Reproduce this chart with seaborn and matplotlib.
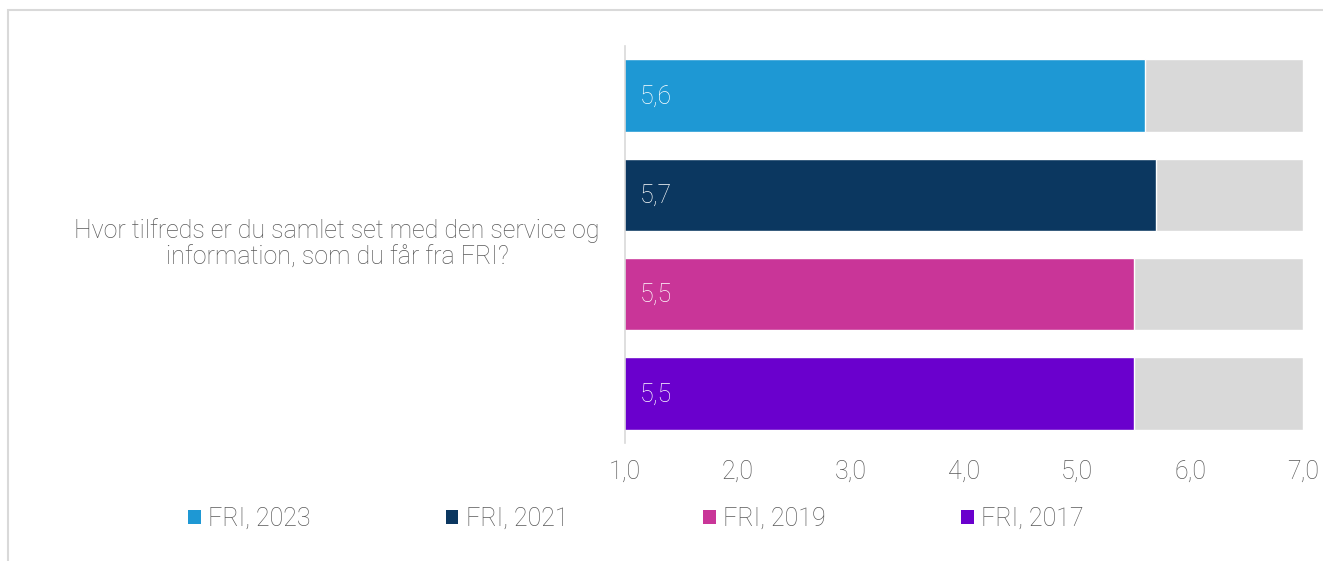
import matplotlib
matplotlib.use('Agg')
import matplotlib.pyplot as plt
from matplotlib.patches import Rectangle, Patch
import pandas as pd
import seaborn as sns

series = ['FRI, 2023', 'FRI, 2021', 'FRI, 2019', 'FRI, 2017']
values = [5.6, 5.7, 5.5, 5.5]
value_labels = ['5,6', '5,7', '5,5', '5,5']
colors = ['#1E98D4', '#0B3760', '#C93598', '#6A00CD']
scale_max = 7.0
xticks = [1, 2, 3, 4, 5, 6, 7]
xtick_labels = ['1,0', '2,0', '3,0', '4,0', '5,0', '6,0', '7,0']
question = 'Hvor tilfreds er du samlet set med den service og\ninformation, som du får fra FRI?'

sns.set_style('white')
plt.rcParams['font.family'] = ['Roboto', 'DejaVu Sans']
plt.rcParams['font.weight'] = 'light'
txt_col = '#595959'
fs = 18

df = pd.DataFrame({'serie': series, 'value': values, 'max': [scale_max] * len(series)})

fig = plt.figure(figsize=(13.23, 5.61), dpi=100)
ax = fig.add_axes([625 / 1323, 1 - 443 / 561, 678 / 1323, 397 / 561])

# grey remainder up to 7, then the coloured bar on top
sns.barplot(data=df, y='serie', x='max', order=series, color='#D9D9D9',
            width=0.73, ax=ax, saturation=1)
sns.barplot(data=df, y='serie', x='value', order=series, hue='serie',
            palette=colors, width=0.73, ax=ax, saturation=1, legend=False)

ax.set_xlim(1, 7)
ax.set_ylim(3.5, -0.5)
ax.set_xticks(xticks)
ax.set_xticklabels(xtick_labels, fontsize=fs, color=txt_col)
ax.tick_params(axis='x', length=0, pad=12)
ax.set_yticks([])
ax.set_xlabel('')
ax.set_ylabel('')
for s in ['top', 'right', 'bottom']:
    ax.spines[s].set_visible(False)
ax.spines['left'].set_color('#D9D9D9')
ax.spines['left'].set_linewidth(1.2)

for i, lab in enumerate(value_labels):
    ax.text(1.13, i + 0.01, lab, color='white', fontsize=fs, va='center', ha='left')

fig.text(337 / 1323, 1 - 244 / 561, question, ha='center', va='center',
         fontsize=fs, color=txt_col, linespacing=1.15)

handles = [Patch(facecolor=c, edgecolor='none') for c in colors]
fig.legend(handles, series, loc='center', bbox_to_anchor=(636 / 1323, 1 - 519 / 561),
           ncol=4, frameon=False, fontsize=fs, labelcolor=txt_col,
           handlelength=0.5, handleheight=0.5, handletextpad=0.3, columnspacing=5.4)

fig.patches.append(Rectangle((8 / 1323, -0.1), 1.2, 1 - 10 / 561 + 0.1,
                             transform=fig.transFigure, fill=False,
                             edgecolor='#D9D9D9', linewidth=1.5))

fig.savefig('out.png', dpi=100)
